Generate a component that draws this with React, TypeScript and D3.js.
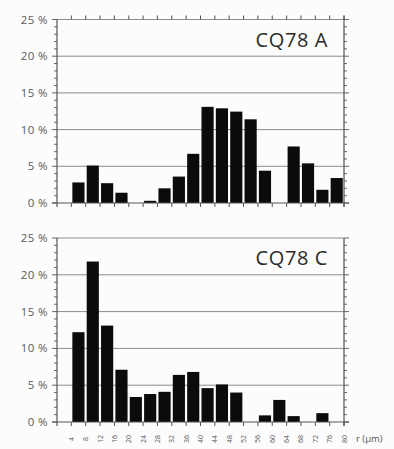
import React from 'react';
import * as d3 from 'd3';

// bin starts (µm), each bin is 4 µm wide
const binStarts = [4, 8, 12, 16, 20, 24, 28, 32, 36, 40, 44, 48, 52, 56, 60, 64, 68, 72, 76];
const xTickLabels = [4, 8, 12, 16, 20, 24, 28, 32, 36, 40, 44, 48, 52, 56, 60, 64, 68, 72, 76, 80];
const yTickLabels = [0, 5, 10, 15, 20, 25];

// percent per bin
const sampleA = [2.8, 5.1, 2.7, 1.4, 0, 0.3, 2.0, 3.6, 6.7, 13.1, 12.9, 12.45, 11.4, 4.4, 0, 7.7, 5.4, 1.8, 3.4];
const sampleC = [12.2, 21.8, 13.1, 7.1, 3.4, 3.8, 4.1, 6.4, 6.8, 4.6, 5.1, 4.0, 0, 0.9, 3.0, 0.8, 0, 1.2, 0];

const W = 394;
const H = 449;
const AXIS = '#555';
const GRID = '#8c8c8c';
const FONT = '"Open Sans", sans-serif';

const x = d3.scaleLinear().domain([0, 80]).range([57, 344]);

type PanelProps = {
  title: string;
  values: number[];
  top: number;
  bottom: number;
  topTicks: boolean;
};

const Panel = ({ title, values, top, bottom, topTicks }: PanelProps) => {
  const y = d3.scaleLinear().domain([0, 25]).range([bottom, top]);
  const minor = d3.range(0, 26, 1);
  const [x0, x1] = x.range();

  return (
    <g>
      {/* grid */}
      {yTickLabels.slice(1).map(t => (
        <line key={'g' + t} x1={x0} x2={x1} y1={y(t)} y2={y(t)} stroke={GRID} strokeWidth={1} />
      ))}

      {/* bars */}
      {values.map((v, i) =>
        v > 0 ? (
          <rect
            key={'b' + i}
            x={x(binStarts[i]) + 1}
            width={x(binStarts[i] + 4) - x(binStarts[i]) - 2.2}
            y={y(v)}
            height={bottom - y(v)}
            fill="#0b0b0b"
          />
        ) : null
      )}

      {/* left / right axes */}
      <line x1={x0} x2={x0} y1={top} y2={bottom + 4} stroke={AXIS} strokeWidth={1.2} />
      <line x1={x1} x2={x1} y1={top - (topTicks ? 4 : 0)} y2={bottom + 4} stroke={AXIS} strokeWidth={1.2} />
      {minor.map(t => (
        <g key={'m' + t}>
          <line x1={x0 - (t % 5 === 0 ? 5 : 3)} x2={x0} y1={y(t)} y2={y(t)} stroke={AXIS} strokeWidth={0.9} />
          <line x1={x1} x2={x1 + (t % 5 === 0 ? 5 : 3)} y1={y(t)} y2={y(t)} stroke={AXIS} strokeWidth={0.9} />
        </g>
      ))}
      {yTickLabels.map(t => (
        <text
          key={'yl' + t}
          x={x0 - 9}
          y={y(t) + 4}
          textAnchor="end"
          fontSize={11.5}
          fontFamily={FONT}
          fill="#5a5a5a"
          letterSpacing={0.4}
        >
          {t} %
        </text>
      ))}

      {/* bottom axis */}
      <line x1={x0 - 5} x2={x1 + 5} y1={bottom} y2={bottom} stroke={AXIS} strokeWidth={1.2} />
      {xTickLabels.map(t => (
        <line key={'xt' + t} x1={x(t)} x2={x(t)} y1={bottom} y2={bottom + 4} stroke={AXIS} strokeWidth={1} />
      ))}
      {topTicks &&
        xTickLabels.map(t => (
          <line key={'tt' + t} x1={x(t)} x2={x(t)} y1={top - 4} y2={top} stroke={AXIS} strokeWidth={1} />
        ))}

      <text
        x={x1 - 16}
        y={top + 27}
        textAnchor="end"
        fontSize={20}
        fontFamily={FONT}
        fill="#2a2a2a"
        letterSpacing={0.6}
      >
        {title}
      </text>
    </g>
  );
};

export default function App() {
  const labelY = 439;
  return (
    <svg
      width={W}
      height={H}
      style={{ position: 'absolute', left: 0, top: 0, background: '#fcfcfc' }}
    >
      <Panel title="CQ78 A" values={sampleA} top={19.5} bottom={203} topTicks={true} />
      <Panel title="CQ78 C" values={sampleC} top={238} bottom={422} topTicks={false} />

      {xTickLabels.map(t => (
        <text
          key={'xl' + t}
          transform={`translate(${x(t) + 2.5},${labelY}) rotate(-90)`}
          textAnchor="middle"
          fontSize={7}
          fontFamily={FONT}
          fill="#5a5a5a"
        >
          {t}
        </text>
      ))}
      <text x={356} y={442} fontSize={9.5} fontFamily={FONT} fill="#555">
        r (µm)
      </text>
    </svg>
  );
}
